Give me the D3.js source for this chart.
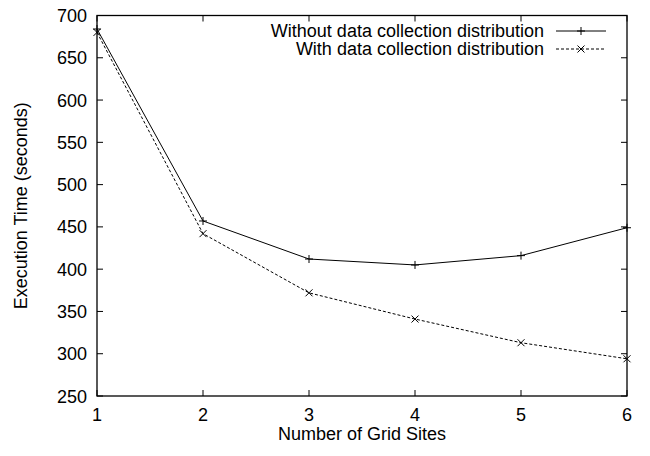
<!DOCTYPE html>
<html>
<head>
<meta charset="utf-8">
<script src="https://cdn.jsdelivr.net/npm/d3@7"></script>
<style>
    body { margin: 0; background: #fff; }
    text { font-family: "Liberation Sans", Arial, sans-serif; fill: #000; }
</style>
</head>
<body>
<svg id="chart" width="650" height="456"></svg>
<script>
// Data
const gridSites = [1, 2, 3, 4, 5, 6];
const withoutDist = [684, 457, 412, 405, 416, 449];
const withDist = [680, 442, 372, 341, 313, 294];
const seriesNames = ['Without data collection distribution', 'With data collection distribution'];
const yTicks = [250, 300, 350, 400, 450, 500, 550, 600, 650, 700];

/**
 * Visual configs.
 */
const margin = { top: 15.5, right: 23, bottom: 60, left: 97 },
    visWidth = 650, visHeight = 456,
    width = visWidth - margin.left - margin.right,
    height = visHeight - margin.top - margin.bottom,
    tickLen = 6,
    fontSize = 18;

const svg = d3.select('#chart');
const g = svg.append('g').attr('transform', 'translate(' + margin.left + ',' + margin.top + ')');

const x = d3.scaleLinear().domain([1, 6]).range([0, width]);
const y = d3.scaleLinear().domain([250, 700]).range([height, 0]);

// Ticks on all four sides, pointing inwards
const ticks = g.append('g').attr('class', 'ticks').attr('stroke', '#000').attr('stroke-width', 1);
gridSites.forEach(v => {
    ticks.append('line').attr('x1', x(v)).attr('x2', x(v)).attr('y1', height).attr('y2', height - tickLen);
    ticks.append('line').attr('x1', x(v)).attr('x2', x(v)).attr('y1', 0).attr('y2', tickLen);
});
yTicks.forEach(v => {
    ticks.append('line').attr('x1', 0).attr('x2', tickLen).attr('y1', y(v)).attr('y2', y(v));
    ticks.append('line').attr('x1', width).attr('x2', width - tickLen).attr('y1', y(v)).attr('y2', y(v));
});

// Border
g.append('rect')
    .attr('width', width).attr('height', height)
    .attr('fill', 'none').attr('stroke', '#000').attr('stroke-width', 1.3);

// Tick labels
g.append('g').selectAll('text').data(gridSites).join('text')
    .attr('x', d => x(d)).attr('y', height + 25)
    .attr('text-anchor', 'middle').style('font-size', fontSize + 'px')
    .text(d => d);
g.append('g').selectAll('text').data(yTicks).join('text')
    .attr('x', -10).attr('y', d => y(d) + 6.5)
    .attr('text-anchor', 'end').style('font-size', fontSize + 'px')
    .text(d => d);

// Axis titles
svg.append('text')
    .attr('x', margin.left + width / 2).attr('y', 440)
    .attr('text-anchor', 'middle').style('font-size', fontSize + 'px')
    .text('Number of Grid Sites');
svg.append('text')
    .attr('transform', 'translate(27,' + (margin.top + height / 2) + ') rotate(-90)')
    .attr('text-anchor', 'middle').style('font-size', fontSize + 'px')
    .text('Execution Time (seconds)');

// Lines
const line = d3.line().x(d => x(d[0])).y(d => y(d[1]));
const series = [
    { name: seriesNames[0], values: d3.zip(gridSites, withoutDist), dash: null, marker: 'plus' },
    { name: seriesNames[1], values: d3.zip(gridSites, withDist), dash: '3,2', marker: 'cross' }
];

function drawMarker(sel, type, cx, cy) {
    const s = type === 'plus' ? 4 : 3.5;
    const path = type === 'plus'
        ? 'M' + (cx - s) + ',' + cy + 'H' + (cx + s) + 'M' + cx + ',' + (cy - s) + 'V' + (cy + s)
        : 'M' + (cx - s) + ',' + (cy - s) + 'L' + (cx + s) + ',' + (cy + s) + 'M' + (cx - s) + ',' + (cy + s) + 'L' + (cx + s) + ',' + (cy - s);
    sel.append('path').attr('d', path).attr('stroke', '#000').attr('stroke-width', 1).attr('fill', 'none');
}

series.forEach(s => {
    g.append('path')
        .attr('d', line(s.values))
        .attr('fill', 'none').attr('stroke', '#000').attr('stroke-width', 1)
        .attr('stroke-dasharray', s.dash);
    const marks = g.append('g');
    s.values.forEach(d => drawMarker(marks, s.marker, x(d[0]), y(d[1])));
});

// Legend
const legend = svg.append('g').attr('class', 'legend');
series.forEach((s, i) => {
    const ly = 31 + i * 18;
    legend.append('text')
        .attr('x', 544).attr('y', ly + 6)
        .attr('text-anchor', 'end').style('font-size', fontSize + 'px')
        .text(s.name);
    legend.append('line')
        .attr('x1', 556).attr('x2', 606).attr('y1', ly).attr('y2', ly)
        .attr('stroke', '#000').attr('stroke-width', 1)
        .attr('stroke-dasharray', s.dash);
    drawMarker(legend, s.marker, 581, ly);
});
</script>
</body>
</html>
